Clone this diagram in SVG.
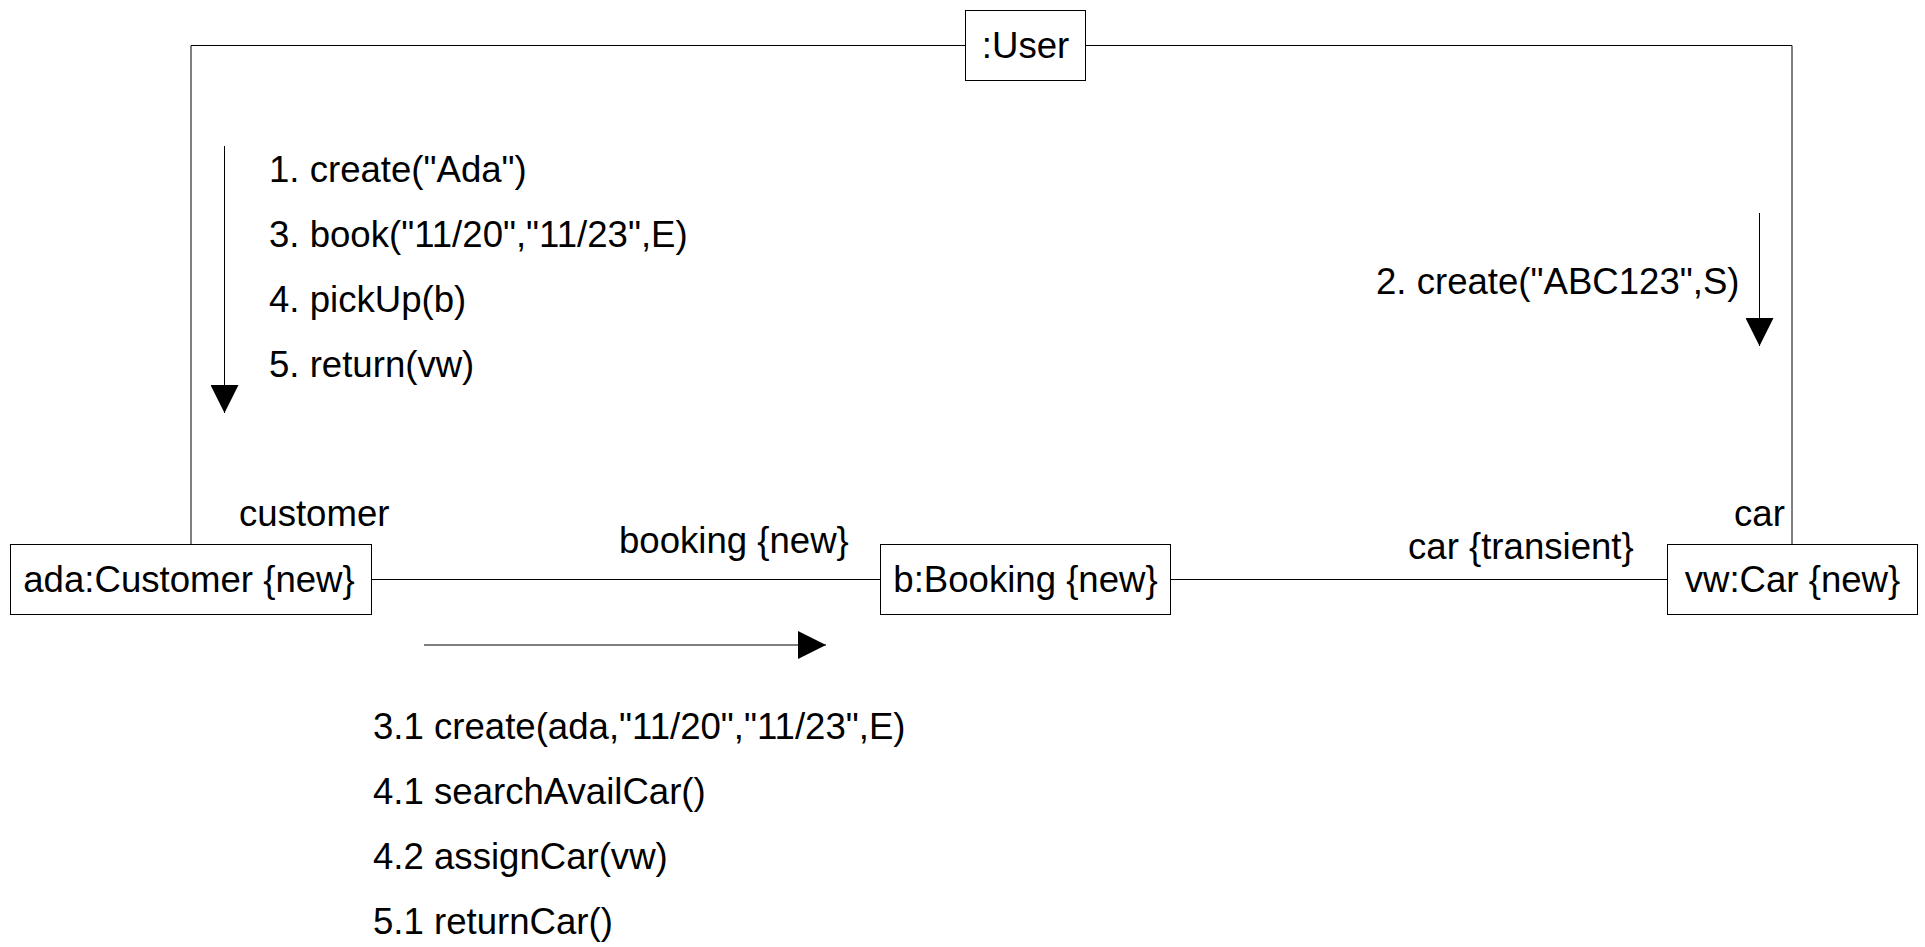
<svg xmlns="http://www.w3.org/2000/svg" width="1925" height="947" viewBox="0 0 1925 947">
<style>
text{font-family:"Liberation Sans",Arial,sans-serif;font-size:36.6px;fill:#000}
.box{fill:#fff;stroke:#000;stroke-width:1}
.conn{fill:none;stroke:#000;stroke-width:1}
.msg{fill:none;stroke:#000;stroke-width:1}
.c{text-anchor:middle}
</style>
<defs>
<marker id="arr" markerUnits="userSpaceOnUse" markerWidth="28" markerHeight="28" refX="28" refY="14" orient="auto" viewBox="0 0 28 28">
<path d="M0,0 L28,14 L0,28 z" fill="#000"/>
</marker>
</defs>
<g id="connectors">
<polyline class="conn" points="191,545 191,45.5 965,45.5"/>
<polyline class="conn" points="1085,45.5 1792,45.5 1792,545"/>
<line class="conn" x1="371" y1="579.5" x2="880" y2="579.5"/>
<line class="conn" x1="1170" y1="579.5" x2="1667" y2="579.5"/>
<text x="239" y="526">customer</text>
<text x="619" y="553">booking {new}</text>
<text x="1408" y="559">car {transient}</text>
<text x="1734" y="526">car</text>
</g>
<g id="messages">
<line class="msg" x1="224.5" y1="146" x2="224.5" y2="413" marker-end="url(#arr)"/>
<text x="269" y="182">1. create("Ada")</text>
<text x="269" y="247">3. book("11/20","11/23",E)</text>
<text x="269" y="312">4. pickUp(b)</text>
<text x="269" y="377">5. return(vw)</text>
<line class="msg" x1="1759.5" y1="213" x2="1759.5" y2="346" marker-end="url(#arr)"/>
<text x="1376" y="294">2. create("ABC123",S)</text>
<line class="msg" x1="424" y1="645" x2="826" y2="645" marker-end="url(#arr)"/>
<text x="373" y="739">3.1 create(ada,"11/20","11/23",E)</text>
<text x="373" y="804">4.1 searchAvailCar()</text>
<text x="373" y="869">4.2 assignCar(vw)</text>
<text x="373" y="934">5.1 returnCar()</text>
</g>
<g id="user">
<rect class="box" x="965.5" y="10.5" width="120" height="70"/>
<text class="c" x="1025.5" y="58">:User</text>
</g>
<g id="customer">
<rect class="box" x="10.5" y="544.5" width="361" height="70"/>
<text class="c" x="189" y="592">ada:Customer {new}</text>
</g>
<g id="booking">
<rect class="box" x="880.5" y="544.5" width="290" height="70"/>
<text class="c" x="1025.5" y="592">b:Booking {new}</text>
</g>
<g id="car">
<rect class="box" x="1667.5" y="544.5" width="250" height="70"/>
<text class="c" x="1792.5" y="592">vw:Car {new}</text>
</g>
</svg>
